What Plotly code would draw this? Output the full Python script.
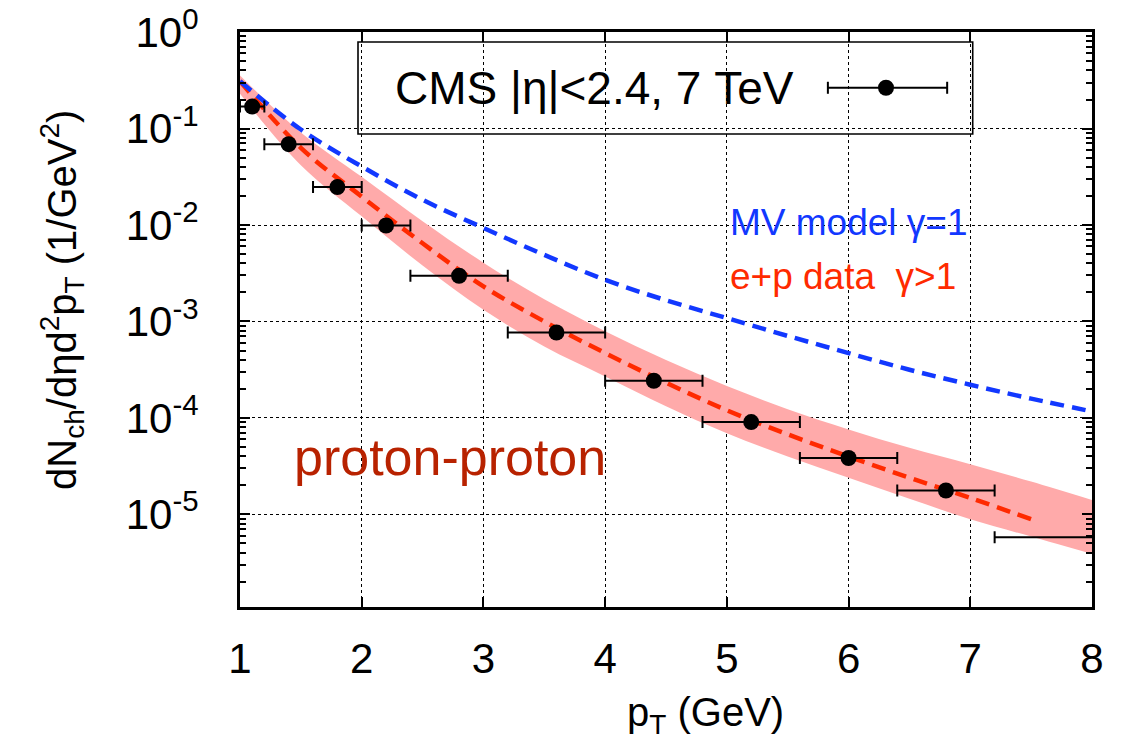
import plotly.graph_objects as go

# ---------------- data ----------------
pt_data = [1.1, 1.4, 1.8, 2.2, 2.8, 3.6, 4.4, 5.2, 6.0, 6.8, 8.4]
yield_data = [0.169, 0.0689, 0.0247, 0.00989, 0.00298, 7.69e-4, 2.43e-4,
              9.06e-5, 3.84e-5, 1.77e-5, 5.78e-6]
pt_err = [0.1, 0.2, 0.2, 0.2, 0.4, 0.4, 0.4, 0.4, 0.4, 0.4, 1.2]

pt_mv = [1.0, 1.5, 2.0, 2.5, 3.0, 3.5, 4.0, 4.5, 5.0, 5.5, 6.0, 6.5, 7.0, 7.5, 8.0]
yield_mv = [0.309, 0.0977, 0.0404, 0.01824, 0.00933, 0.0049, 0.0027, 0.00166,
            0.001084, 7.08e-4, 4.70e-4, 3.16e-4, 2.21e-4, 1.585e-4, 1.167e-4]

pt_ep = [1.0, 1.5, 2.0, 2.5, 3.0, 3.5, 4.0, 4.5, 5.0, 5.5, 6.0, 6.5, 7.0, 7.5]
yield_ep = [0.309, 0.0631, 0.0197, 0.00646, 0.00231, 0.001, 4.71e-4, 2.32e-4,
            1.20e-4, 6.76e-5, 3.98e-5, 2.40e-5, 1.48e-5, 8.91e-6]

pt_band = [1.0, 1.5, 2.0, 2.5, 3.0, 3.5, 4.0, 4.5, 5.0, 5.5, 6.0, 6.5, 7.0, 7.5, 8.0]
band_upper = [0.355, 0.0912, 0.0316, 0.01096, 0.00407, 0.0017, 7.94e-4, 3.98e-4,
              2.14e-4, 1.23e-4, 7.59e-5, 4.90e-5, 3.31e-5, 2.19e-5, 1.41e-5]
band_lower = [0.229, 0.0417, 0.0123, 0.0038, 0.00132, 5.50e-4, 2.69e-4, 1.32e-4,
              6.92e-5, 3.98e-5, 2.40e-5, 1.45e-5, 8.91e-6, 5.89e-6, 3.89e-6]

x_ticks = [1, 2, 3, 4, 5, 6, 7, 8]
y_tickvals = [1, 0.1, 0.01, 0.001, 1e-4, 1e-5]
y_ticktext = ["10<sup>0</sup>", "10<sup>-1</sup>", "10<sup>-2</sup>",
              "10<sup>-3</sup>", "10<sup>-4</sup>", "10<sup>-5</sup>"]

FONT = "Liberation Sans, Arial, Helvetica, sans-serif"
BLUE = "#1238ff"
RED = "#ff2a00"
PINK = "#ffaaaa"

fig = go.Figure()

# band
fig.add_trace(go.Scatter(x=pt_band, y=band_upper, mode="lines",
                         line=dict(width=0, color=PINK, shape="spline"),
                         hoverinfo="skip", showlegend=False))
fig.add_trace(go.Scatter(x=pt_band, y=band_lower, mode="lines",
                         line=dict(width=0, color=PINK, shape="spline"),
                         fill="tonexty", fillcolor=PINK,
                         hoverinfo="skip", showlegend=False))
# e+p curve
fig.add_trace(go.Scatter(x=pt_ep, y=yield_ep, mode="lines",
                         line=dict(color=RED, width=4.5, dash="14px,8px", shape="spline"),
                         showlegend=False))
# MV curve
fig.add_trace(go.Scatter(x=pt_mv, y=yield_mv, mode="lines",
                         line=dict(color=BLUE, width=4.5, dash="14px,8px", shape="spline"),
                         showlegend=False))
# CMS data
fig.add_trace(go.Scatter(x=pt_data, y=yield_data, mode="markers",
                         marker=dict(color="black", size=16),
                         error_x=dict(type="data", array=pt_err, color="black",
                                      thickness=2, width=6),
                         showlegend=False))

axis_common = dict(showline=True, linecolor="black", linewidth=3, mirror="allticks",
                   ticks="inside", tickcolor="black", tickwidth=1.8, ticklen=10,
                   showgrid=True, gridcolor="black", gridwidth=1.2, griddash="dot",
                   zeroline=False, ticklabeloverflow="allow", automargin=False,
                   tickfont=dict(family=FONT, size=42, color="black"))

fig.update_xaxes(range=[1, 8], tickvals=x_ticks, ticklabelstandoff=13, **axis_common)
fig.update_yaxes(type="log", range=[-5.96, 0.0008], tickvals=y_tickvals, ticktext=y_ticktext,
                 ticklabelstandoff=30,
                 minor=dict(ticks="inside", ticklen=6, tickwidth=1.5, tickcolor="black",
                            dtick="D1", showgrid=False),
                 **axis_common)

# legend box and sample (paper coordinates of the plot area)
fig.add_shape(type="rect", xref="paper", yref="paper", x0=0.1385, x1=0.860,
              y0=0.8226, y1=0.9826, line=dict(color="black", width=1.6),
              fillcolor="rgba(0,0,0,0)")
fig.add_annotation(xref="paper", yref="paper", x=0.1796, y=0.903, xanchor="left",
                   yanchor="middle", showarrow=False, text="CMS |η|<2.4, 7 TeV",
                   font=dict(family=FONT, size=46, color="black"))
fig.add_shape(type="line", xref="paper", yref="paper", x0=0.690, x1=0.830,
              y0=0.903, y1=0.903, line=dict(color="black", width=2))
for xc in (0.690, 0.830):
    fig.add_shape(type="line", xref="paper", yref="paper", xsizemode="scaled",
                  ysizemode="pixel", yanchor=0.903, x0=xc, x1=xc, y0=-6, y1=6,
                  line=dict(color="black", width=2))
fig.add_shape(type="circle", xref="paper", yref="paper", xsizemode="pixel",
              ysizemode="pixel", xanchor=0.7582, yanchor=0.903, x0=-8, x1=8,
              y0=-8, y1=8, fillcolor="black", line=dict(color="black", width=0))

# text labels
fig.add_annotation(xref="paper", yref="paper", x=0.573, y=0.668, xanchor="left",
                   yanchor="middle", showarrow=False, text="MV model γ=1",
                   font=dict(family=FONT, size=37, color=BLUE))
fig.add_annotation(xref="paper", yref="paper", x=0.573, y=0.574, xanchor="left",
                   yanchor="middle", showarrow=False, text="e+p data  γ>1",
                   font=dict(family=FONT, size=37, color=RED))
fig.add_annotation(xref="paper", yref="paper", x=0.061, y=0.261, xanchor="left",
                   yanchor="middle", showarrow=False, text="proton-proton",
                   font=dict(family=FONT, size=52, color="#b82200"))

# axis titles
fig.add_annotation(xref="paper", yref="paper", x=0.546, y=-0.188, xanchor="center",
                   yanchor="middle", showarrow=False, text="p<sub>T</sub> (GeV)",
                   font=dict(family=FONT, size=40, color="black"))
fig.add_annotation(xref="paper", yref="paper", x=-0.209, y=0.534, xanchor="center",
                   yanchor="middle", showarrow=False, textangle=-90,
                   text="dN<sub>ch</sub>/dηd<sup>2</sup>p<sub>T</sub> (1/GeV<sup>2</sup>)",
                   font=dict(family=FONT, size=40, color="black"))

# page body adds an 8 px margin; margins compensate so the frame lands where the reference has it
fig.update_layout(width=1140, height=741, margin=dict(l=232, r=56, t=24, b=142),
                  paper_bgcolor="white", plot_bgcolor="white", showlegend=False,
                  font=dict(family=FONT, color="black"))

fig.write_html("out.html")
